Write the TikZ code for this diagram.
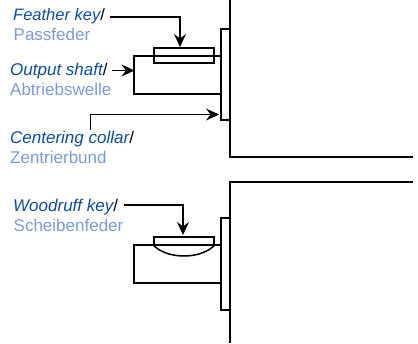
\documentclass[tikz,border=0pt]{standalone}
\usepackage{fontspec}
\setmainfont{Liberation Sans}
\usetikzlibrary{arrows.meta}
\definecolor{endark}{HTML}{0F4C9C}
\definecolor{delight}{HTML}{7C9BD6}
\tikzset{
  part/.style={draw=black,line width=1.5pt,line join=miter},
  leader/.style={draw=black,line width=1.1pt,-{Stealth[length=13pt,width=12pt,inset=4.5pt]}},
  lab/.style={anchor=base west,inner sep=0pt,font=\fontsize{17}{19}\selectfont},
  de/.style={text=delight}
}
\newcommand{\enlabel}[1]{{\color{endark}\itshape #1}{\color{black}/}}
\begin{document}
\begin{tikzpicture}[x=1pt,y=-1pt]
\useasboundingbox (0,0) rectangle (418,343);
% top assembly
\draw[part] (230,0) -- (230,157) -- (413,157);
\draw[part] (230,29) -- (221,29) -- (221,120) -- (230,120);
\draw[part] (221,56) -- (134,56) -- (134,94) -- (221,94);
\node[part,fill=none,minimum width=60pt,minimum height=15pt,inner sep=0pt,outer sep=0pt] (fkey) at (184,55.5) {};
\coordinate (shaftT) at (134.5,70.5);
\coordinate (collarT) at (219,114.5);
% bottom assembly
\draw[part] (413,182) -- (230,182) -- (230,343);
\draw[part] (230,218) -- (221,218) -- (221,310) -- (230,310);
\draw[part] (221,245) -- (134,245) -- (134,283) -- (221,283);
\draw[part] (154,245) -- (154,237) -- (214,237) -- (214,245);
\draw[part] (154,246) .. controls (162,253) and (173,256) .. (184,256) .. controls (195,256) and (206,253) .. (214,246);
\coordinate (wkeyT) at (183,235);
% labels
\node[lab,font=\fontsize{16.5}{18}\selectfont] (t1) at (13,20) {\enlabel{Feather key}};
\node[lab,de] (t1b) at (13.5,40) {Passfeder};
\node[lab] (t2) at (10,75) {\enlabel{Output shaft}};
\node[lab,de] (t2b) at (10,95) {Abtriebswelle};
\node[lab] (t3) at (10,143) {\enlabel{Centering collar}};
\node[lab,de] (t3b) at (10,163) {Zentrierbund};
\node[lab] (t4) at (13,211) {\enlabel{Woodruff key}};
\node[lab,de] (t4b) at (13.5,231) {Scheibenfeder};
% leaders
\coordinate (s1) at (110,17);
\coordinate (s2) at (112,70.5);
\coordinate (s3) at (90.5,130);
\coordinate (s4) at (124,205);
\draw[leader] (s1) -| ([xshift=-4pt,yshift=1pt]fkey.north);
\draw[leader] (s2) -- (shaftT);
\draw[leader] (s3) |- (collarT);
\draw[leader] (s4) -| (wkeyT);
\end{tikzpicture}
\end{document}
